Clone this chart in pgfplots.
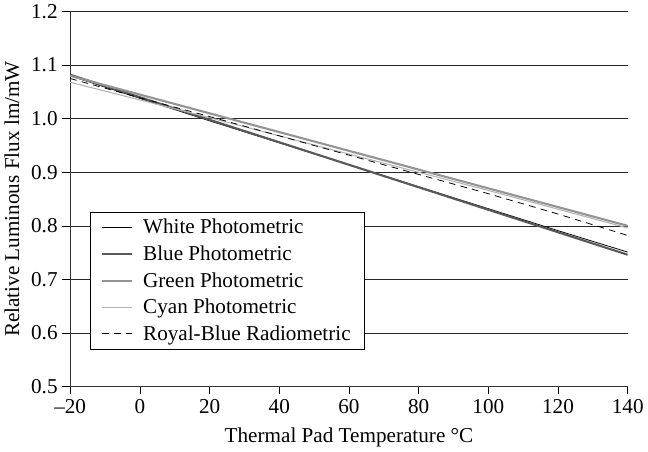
\documentclass[border=0pt]{standalone}
\usepackage{pgfplots}
\pgfplotsset{compat=1.18}
\usepackage{fontspec}
\setmainfont{Liberation Serif}
\begin{document}
\begin{tikzpicture}[font=\fontsize{16}{19}\selectfont]
\begin{axis}[
    width=421.5pt, height=283.5pt,
    scale only axis,
    xmin=-20, xmax=140, ymin=0.5, ymax=1.2,
    axis x line*=bottom, axis y line*=left,
    xtick={-20,0,20,40,60,80,100,120,140},
    xticklabels={\textendash20,0,20,40,60,80,100,120,140},
    ytick={0.5,0.6,0.7,0.8,0.9,1.0,1.1,1.2},
    yticklabels={0.5,0.6,0.7,0.8,0.9,1.0,1.1,1.2},
    tick align=outside, major tick length=6pt,
    tick style={black, thin},
    ymajorgrids, grid style={black!85, thin},
    axis line style={black!80, thin},
    xlabel={Thermal Pad Temperature °C},
    ylabel={Relative Luminous Flux lm/mW},
    xlabel style={yshift=-4pt},
    ylabel style={yshift=2pt},
    legend cell align=left,
    legend style={at={(0.036,0.10)}, anchor=south west, draw=black, thin,
        font=\fontsize{16}{19}\selectfont, row sep=3.5pt, inner xsep=8pt, inner ysep=3pt,
        /tikz/every odd column/.append style={column sep=6pt}},
    legend image post style={xscale=1.3},
]
\addplot[black, line width=0.6pt] coordinates {(-20,1.080) (0,1.038) (20,0.996) (40,0.955) (60,0.914) (80,0.873) (100,0.832) (120,0.791) (140,0.751)};
\addlegendentry{White Photometric}
\addplot[black!65, line width=1.6pt] coordinates {(-20,1.082) (0,1.040) (20,0.998) (40,0.956) (60,0.914) (80,0.872) (100,0.830) (120,0.788) (140,0.746)};
\addlegendentry{Blue Photometric}
\addplot[black!42, line width=1.6pt] coordinates {(-20,1.080) (0,1.045) (20,1.010) (40,0.975) (60,0.940) (80,0.905) (100,0.870) (120,0.835) (140,0.800)};
\addlegendentry{Green Photometric}
\addplot[black!30, line width=0.8pt] coordinates {(-20,1.068) (0,1.035) (20,1.002) (40,0.968) (60,0.934) (80,0.900) (100,0.866) (120,0.831) (140,0.796)};
\addlegendentry{Cyan Photometric}
\addplot[black, line width=0.6pt, dash pattern=on 5pt off 4pt] coordinates {(-20,1.075) (0,1.039) (20,1.004) (40,0.968) (60,0.932) (80,0.896) (100,0.860) (120,0.822) (140,0.782)};
\addlegendentry{Royal-Blue Radiometric}
\end{axis}
\end{tikzpicture}
\end{document}
